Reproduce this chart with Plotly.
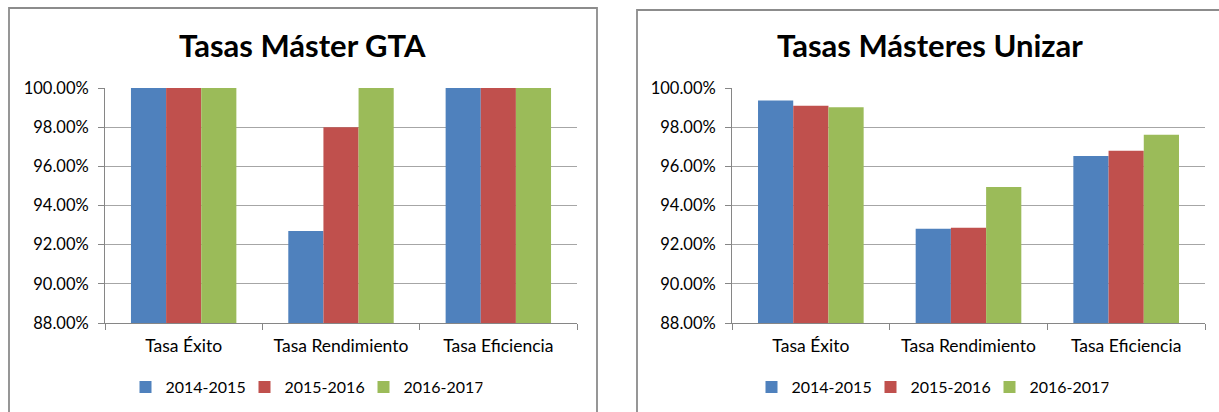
import plotly.graph_objects as go

W, H = 1219, 412

categories = ["Tasa Éxito", "Tasa Rendimiento", "Tasa Eficiencia"]
series_names = ["2014-2015", "2015-2016", "2016-2017"]
colors = ["#4F81BD", "#C0504D", "#9BBB59"]

gta_2014 = [1.000, 0.927, 1.000]
gta_2015 = [1.000, 0.980, 1.000]
gta_2016 = [1.000, 1.000, 1.000]

unizar_2014 = [0.9936, 0.9281, 0.9653]
unizar_2015 = [0.9910, 0.9286, 0.9679]
unizar_2016 = [0.9902, 0.9495, 0.9761]

y_ticks = [0.88, 0.90, 0.92, 0.94, 0.96, 0.98, 1.00]

titles = ["Tasas Máster GTA", "Tasas Másteres Unizar"]

FONT = "Lato"

def px(x):
    return x / W

def py(y):
    return 1 - y / H

fig = go.Figure()

left = [gta_2014, gta_2015, gta_2016]
right = [unizar_2014, unizar_2015, unizar_2016]

for i, (name, col) in enumerate(zip(series_names, colors)):
    fig.add_trace(go.Bar(x=categories, y=left[i], name=name, marker_color=col,
                         marker_line_width=0, xaxis="x", yaxis="y", legend="legend"))
for i, (name, col) in enumerate(zip(series_names, colors)):
    fig.add_trace(go.Bar(x=categories, y=right[i], name=name, marker_color=col,
                         marker_line_width=0, xaxis="x2", yaxis="y2", legend="legend2"))

axis_common_x = dict(
    showgrid=False, showline=True, linecolor="#868686", linewidth=1,
    ticks="outside", ticklen=6, tickcolor="#868686", tickson="boundaries",
    ticklabelstandoff=7,
    tickfont=dict(family=FONT, size=17.5, color="#000000"), fixedrange=True,
)
axis_common_y = dict(
    range=[0.88, 1.0], tickvals=y_ticks, tickformat=".2%",
    showgrid=True, gridcolor="#A6A6A6", gridwidth=1,
    showline=True, linecolor="#868686", linewidth=1,
    ticks="outside", ticklen=6, tickcolor="#868686",
    ticklabelstandoff=6,
    tickfont=dict(family=FONT, size=16.5, color="#000000"), zeroline=False,
    fixedrange=True,
)

pa_top, pa_bot = 88, 323

legend_common = dict(
    orientation="h", yanchor="middle", xanchor="center",
    font=dict(family=FONT, size=16, color="#000000"),
    entrywidth=74, itemwidth=30, bgcolor="rgba(0,0,0,0)", traceorder="normal",
)

fig.update_layout(
    width=W, height=H,
    margin=dict(l=0, r=0, t=0, b=0, pad=0, autoexpand=False),
    paper_bgcolor="white", plot_bgcolor="white",
    barmode="group", bargap=0.33, bargroupgap=0.0,
    xaxis=dict(domain=[px(105), px(577)], anchor="y", **axis_common_x),
    yaxis=dict(domain=[py(pa_bot), py(pa_top)], anchor="x", **axis_common_y),
    xaxis2=dict(domain=[px(732), px(1205)], anchor="y2", **axis_common_x),
    yaxis2=dict(domain=[py(pa_bot), py(pa_top)], anchor="x2", **axis_common_y),
    legend=dict(x=px(304), y=py(387), **legend_common),
    legend2=dict(x=px(930), y=py(387), **legend_common),
    showlegend=True,
)

fig.add_annotation(text="<b>" + titles[0] + "</b>", x=px(302), y=py(45), xref="paper", yref="paper",
                   showarrow=False, font=dict(family=FONT, size=31, color="#000000"),
                   xanchor="center", yanchor="middle")
fig.add_annotation(text="<b>" + titles[1] + "</b>", x=px(930), y=py(45), xref="paper", yref="paper",
                   showarrow=False, font=dict(family=FONT, size=31, color="#000000"),
                   xanchor="center", yanchor="middle")

# panel borders
fig.add_shape(type="rect", xref="paper", yref="paper",
              x0=px(9), x1=px(597), y0=py(425), y1=py(8),
              line=dict(color="#8C8C8C", width=1.8), fillcolor="rgba(0,0,0,0)", layer="below")
fig.add_shape(type="rect", xref="paper", yref="paper",
              x0=px(637), x1=px(1240), y0=py(425), y1=py(10),
              line=dict(color="#8C8C8C", width=1.8), fillcolor="rgba(0,0,0,0)", layer="below")

fig.write_html("out.html", config={"displayModeBar": False},
               post_script="document.body.style.margin='0';document.body.style.overflow='hidden';")
